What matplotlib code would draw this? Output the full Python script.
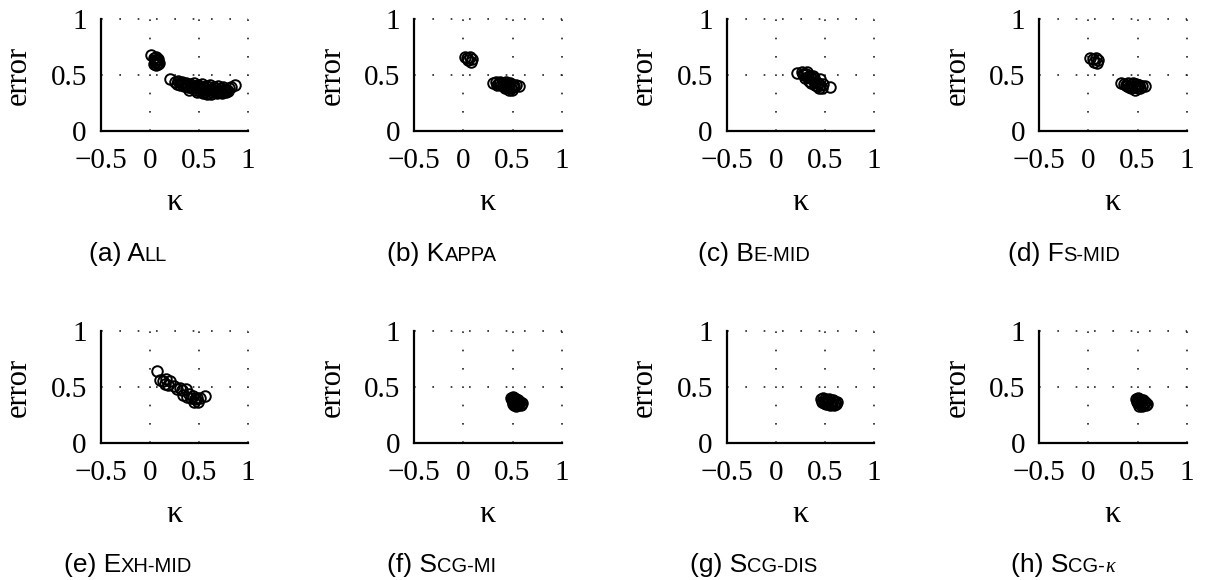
import matplotlib
matplotlib.use('Agg')
import matplotlib.pyplot as plt

W, H = 1208, 580

# (a) All
all_x = [0.01, 0.04, 0.06, 0.08, 0.05, 0.07, 0.04, 0.06, 0.08, 0.05, 0.07, 0.09,
         0.21, 0.26, 0.29, 0.31, 0.33, 0.35, 0.37, 0.39, 0.41, 0.43, 0.45, 0.47,
         0.49, 0.51, 0.53, 0.55, 0.57, 0.59, 0.61, 0.63, 0.65, 0.67, 0.69, 0.71,
         0.73, 0.75, 0.77, 0.79, 0.81, 0.83, 0.36, 0.44, 0.52, 0.58, 0.62, 0.68,
         0.74, 0.78, 0.48, 0.54, 0.40, 0.32, 0.60, 0.70, 0.87, 0.28, 0.34, 0.38,
         0.42, 0.46, 0.50, 0.56, 0.64, 0.72, 0.76, 0.80, 0.50, 0.55, 0.60, 0.66]
all_y = [0.68, 0.65, 0.66, 0.64, 0.62, 0.61, 0.60, 0.59, 0.60, 0.63, 0.63, 0.61,
         0.46, 0.44, 0.45, 0.41, 0.44, 0.40, 0.43, 0.39, 0.42, 0.38, 0.43, 0.37,
         0.41, 0.36, 0.42, 0.35, 0.40, 0.34, 0.41, 0.35, 0.39, 0.36, 0.40, 0.35,
         0.38, 0.39, 0.36, 0.37, 0.38, 0.39, 0.42, 0.40, 0.38, 0.33, 0.33, 0.34,
         0.34, 0.35, 0.35, 0.34, 0.37, 0.43, 0.37, 0.37, 0.41, 0.42, 0.42, 0.41,
         0.40, 0.39, 0.38, 0.37, 0.37, 0.37, 0.37, 0.36, 0.40, 0.39, 0.39, 0.38]

# (b) Kappa
kappa_x = [0.02, 0.04, 0.07, 0.09, 0.05, 0.08, 0.30, 0.33, 0.35, 0.37, 0.38, 0.40,
           0.42, 0.43, 0.45, 0.46, 0.48, 0.50, 0.52, 0.49, 0.44, 0.40, 0.36, 0.57,
           0.54, 0.47, 0.51, 0.34, 0.42, 0.46]
kappa_y = [0.66, 0.65, 0.66, 0.64, 0.63, 0.62, 0.43, 0.44, 0.42, 0.44, 0.41, 0.43,
           0.40, 0.44, 0.39, 0.42, 0.38, 0.41, 0.40, 0.37, 0.41, 0.40, 0.43, 0.40,
           0.41, 0.43, 0.39, 0.41, 0.38, 0.37]

# (c) Be-mid
be_x = [0.22, 0.27, 0.29, 0.31, 0.33, 0.35, 0.37, 0.39, 0.41, 0.43, 0.45, 0.47,
        0.55, 0.45, 0.30, 0.36, 0.40, 0.34, 0.28, 0.42, 0.48, 0.38, 0.32, 0.44]
be_y = [0.52, 0.53, 0.50, 0.51, 0.48, 0.49, 0.46, 0.47, 0.44, 0.43, 0.41, 0.38,
        0.39, 0.46, 0.47, 0.43, 0.41, 0.45, 0.51, 0.40, 0.42, 0.49, 0.53, 0.38]

# (d) Fs-mid
fs_x = [0.02, 0.05, 0.08, 0.10, 0.06, 0.09, 0.33, 0.36, 0.38, 0.40, 0.42, 0.44,
        0.46, 0.48, 0.50, 0.52, 0.55, 0.58, 0.47, 0.43, 0.39, 0.45, 0.50, 0.41,
        0.53, 0.49]
fs_y = [0.65, 0.64, 0.65, 0.63, 0.62, 0.61, 0.43, 0.42, 0.41, 0.43, 0.40, 0.42,
        0.39, 0.42, 0.38, 0.41, 0.40, 0.40, 0.37, 0.38, 0.40, 0.43, 0.41, 0.39,
        0.38, 0.40]

# (e) Exh-mid
exh_x = [0.07, 0.10, 0.13, 0.17, 0.19, 0.21, 0.25, 0.31, 0.33, 0.37, 0.34, 0.38,
         0.42, 0.44, 0.46, 0.49, 0.51, 0.56, 0.48, 0.40, 0.28, 0.15, 0.45]
exh_y = [0.64, 0.56, 0.55, 0.57, 0.52, 0.55, 0.51, 0.49, 0.47, 0.48, 0.43, 0.41,
         0.40, 0.42, 0.39, 0.37, 0.40, 0.42, 0.40, 0.44, 0.48, 0.53, 0.37]

# (f) Scg-mi
mi_x = [0.48, 0.50, 0.52, 0.54, 0.56, 0.58, 0.60, 0.49, 0.51, 0.53, 0.55, 0.57,
        0.59, 0.50, 0.52, 0.54, 0.56, 0.53, 0.55, 0.51]
mi_y = [0.40, 0.41, 0.40, 0.39, 0.38, 0.37, 0.36, 0.38, 0.37, 0.36, 0.35, 0.36,
        0.34, 0.35, 0.34, 0.33, 0.34, 0.38, 0.37, 0.39]

# (g) Scg-dis
dis_x = [0.46, 0.48, 0.50, 0.52, 0.54, 0.56, 0.58, 0.60, 0.62, 0.47, 0.49, 0.51,
         0.53, 0.55, 0.57, 0.59, 0.61, 0.52, 0.56, 0.50]
dis_y = [0.39, 0.40, 0.39, 0.38, 0.39, 0.37, 0.38, 0.37, 0.37, 0.37, 0.36, 0.35,
         0.36, 0.34, 0.35, 0.34, 0.35, 0.37, 0.36, 0.37]

# (h) Scg-kappa
sk_x = [0.48, 0.50, 0.52, 0.54, 0.56, 0.58, 0.60, 0.49, 0.51, 0.53, 0.55, 0.57,
        0.59, 0.52, 0.55, 0.57, 0.50, 0.54]
sk_y = [0.39, 0.40, 0.39, 0.38, 0.38, 0.37, 0.35, 0.37, 0.36, 0.35, 0.34, 0.35,
        0.34, 0.33, 0.33, 0.36, 0.38, 0.37]

xs = [all_x, kappa_x, be_x, fs_x, exh_x, mi_x, dis_x, sk_x]
ys = [all_y, kappa_y, be_y, fs_y, exh_y, mi_y, dis_y, sk_y]

# caption pieces: (text, big?) -> small caps imitation
captions = [
    [('(a) A', True), ('LL', False)],
    [('(b) K', True), ('APPA', False)],
    [('(c) B', True), ('E-MID', False)],
    [('(d) F', True), ('S-MID', False)],
    [('(e) E', True), ('XH-MID', False)],
    [('(f) S', True), ('CG-MI', False)],
    [('(g) S', True), ('CG-DIS', False)],
    [('(h) S', True), ('CG-', False), (r'$\kappa$', False)],
]

x_ticks = [-0.5, 0, 0.5, 1]
x_ticklabels = ['\u22120.5', '0', '0.5', '1']
y_ticks = [0, 0.5, 1]
y_ticklabels = ['0', '0.5', '1']

lefts = [100.7, 414.3, 726.7, 1039.3]
bottoms = [131, 443]
ax_w, ax_h = 147.3, 112
cap_centers = [128, 442, 754, 1064]
cap_base = [261, 572]

plt.rcParams['mathtext.fontset'] = 'custom'
plt.rcParams['mathtext.it'] = 'Liberation Serif:italic'

fig = plt.figure(figsize=(W / 100, H / 100), dpi=100)
fig.patch.set_facecolor('white')

serif = 'Liberation Serif'
sans = 'Liberation Sans'

for i in range(8):
    r, c = divmod(i, 4)
    ax = fig.add_axes([lefts[c] / W, 1 - bottoms[r] / H, ax_w / W, ax_h / H])
    ax.plot(xs[i], ys[i], 'o', mfc='none', mec='black', ms=7.6, mew=1.4, clip_on=False)
    ax.set_xlim(-0.5, 1)
    ax.set_ylim(0, 1)
    ax.set_xticks(x_ticks)
    ax.set_xticklabels(x_ticklabels, family=serif, fontsize=21)
    ax.set_yticks(y_ticks)
    ax.set_yticklabels(y_ticklabels, family=serif, fontsize=21)
    ax.tick_params(length=0)
    ax.tick_params(axis='x', pad=12)
    ax.tick_params(axis='y', pad=10)
    for s in ['top', 'right']:
        ax.spines[s].set_visible(False)
    for s in ['left', 'bottom']:
        ax.spines[s].set_linewidth(1.6)
    ax.grid(True, color='#222222', linestyle=(0, (1, 10)), linewidth=1.2)
    for gl in ax.get_xgridlines() + ax.get_ygridlines():
        gl.set_clip_on(False)
    ax.set_axisbelow(True)
    ax.set_xlabel('\u03ba', family=serif, fontsize=23)
    ax.xaxis.set_label_coords(0.5, -0.64)
    ax.xaxis.label.set_va('center')
    ax.set_ylabel('error', family=serif, fontsize=22)
    ax.yaxis.set_label_coords(-0.56, 0.5)
    ax.yaxis.label.set_va('center')

# captions in small caps
renderer = fig.canvas.get_renderer()
for i in range(8):
    r, c = divmod(i, 4)
    pieces = []
    for txt, big in captions[i]:
        t = fig.text(0, 1 - cap_base[r] / H, txt, family=sans,
                     fontsize=19 if big else 14.5, va='baseline', ha='left')
        pieces.append(t)
    widths = [p.get_window_extent(renderer).width for p in pieces]
    x = cap_centers[c] - sum(widths) / 2
    for p, w in zip(pieces, widths):
        p.set_x(x / W)
        x += w

fig.savefig('out.png', dpi=100)
